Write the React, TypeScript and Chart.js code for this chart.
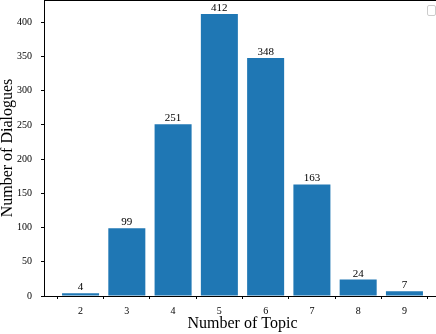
import React, { useEffect, useRef } from 'react';
import { Chart, registerables } from 'chart.js';

Chart.register(...registerables);

const topics = [2, 3, 4, 5, 6, 7, 8, 9];
const dialogues = [4, 99, 251, 412, 348, 163, 24, 7];
const yTickValues = [0, 50, 100, 150, 200, 250, 300, 350, 400];
const xTitle = 'Number of Topic';
const yTitle = 'Number of Dialogues';

const X_MIN = 1.21;
const X_MAX = 9.79;
const Y_MAX = 432.6;
const FONT = "'Liberation Serif', 'Times New Roman', serif";

const framePlugin = {
  id: 'frameAndLabels',
  afterDatasetsDraw(chart: any) {
    const { ctx, chartArea } = chart;
    ctx.save();
    // top spine
    ctx.strokeStyle = '#000';
    ctx.lineWidth = 1;
    ctx.beginPath();
    ctx.moveTo(chartArea.left, chartArea.top + 0.5);
    ctx.lineTo(chartArea.right, chartArea.top + 0.5);
    ctx.stroke();
    // empty legend frame
    ctx.strokeStyle = '#cccccc';
    ctx.lineWidth = 1;
    const lx = chartArea.right - 14;
    const ly = chartArea.top + 5;
    ctx.beginPath();
    if ((ctx as any).roundRect) {
      (ctx as any).roundRect(lx + 0.5, ly + 0.5, 8, 10, 1.5);
    } else {
      ctx.rect(lx + 0.5, ly + 0.5, 8, 10);
    }
    ctx.stroke();
    // value labels
    const meta = chart.getDatasetMeta(0);
    ctx.fillStyle = '#000';
    ctx.font = `11px ${FONT}`;
    ctx.textAlign = 'center';
    ctx.textBaseline = 'alphabetic';
    meta.data.forEach((bar: any, i: number) => {
      ctx.fillText(String(dialogues[i]), bar.x, bar.y - 3);
    });
    ctx.restore();
  },
};

export default function App() {
  const ref = useRef<HTMLCanvasElement | null>(null);

  useEffect(() => {
    if (!ref.current) return;
    const chart = new Chart(ref.current, {
      type: 'bar',
      data: {
        datasets: [
          {
            data: topics.map((t, i) => ({ x: t, y: dialogues[i] })),
            backgroundColor: '#1f77b4',
            borderWidth: 0,
            barPercentage: 0.8,
            categoryPercentage: 1.0,
          },
        ],
      },
      options: {
        responsive: false,
        animation: false,
        devicePixelRatio: 1,
        layout: { padding: 0 },
        plugins: {
          legend: { display: false },
          tooltip: { enabled: false },
        },
        scales: {
          x: {
            type: 'linear',
            min: X_MIN,
            max: X_MAX,
            offset: false,
            afterBuildTicks: (scale: any) => {
              scale.ticks = topics.map((v) => ({ value: v }));
            },
            afterFit: (scale: any) => {
              scale.height = 38;
              scale.paddingLeft = 0;
              scale.paddingRight = 0;
            },
            grid: {
              display: true,
              drawOnChartArea: false,
              drawTicks: true,
              tickLength: 3,
              color: '#000',
            },
            border: { display: true, color: '#000', width: 1 },
            ticks: {
              color: '#000',
              font: { family: FONT, size: 10 },
              padding: 6,
              maxRotation: 0,
              autoSkip: false,
              callback: (v: any) => String(v),
            },
            title: {
              display: true,
              text: xTitle,
              color: '#000',
              font: { family: FONT, size: 16, lineHeight: 1 },
              padding: { top: 0, bottom: 2 },
            },
          },
          y: {
            type: 'linear',
            min: 0,
            max: Y_MAX,
            afterBuildTicks: (scale: any) => {
              scale.ticks = yTickValues.map((v) => ({ value: v }));
            },
            afterFit: (scale: any) => {
              scale.width = 44;
              scale.paddingTop = 0;
              scale.paddingBottom = 0;
            },
            grid: {
              display: true,
              drawOnChartArea: false,
              drawTicks: true,
              tickLength: 3,
              color: '#000',
            },
            border: { display: true, color: '#000', width: 1 },
            ticks: {
              color: '#000',
              font: { family: FONT, size: 10 },
              padding: 9,
              callback: (v: any) => String(v),
            },
            title: {
              display: true,
              text: yTitle,
              color: '#000',
              font: { family: FONT, size: 16, lineHeight: 1 },
              padding: { top: 0, bottom: 0 },
            },
          },
        },
      },
      plugins: [framePlugin],
    });
    return () => chart.destroy();
  }, []);

  return (
    <div
      style={{
        position: 'fixed',
        left: 0,
        top: 0,
        width: 436,
        height: 334,
        overflow: 'hidden',
        background: '#fff',
      }}
    >
      <canvas
        ref={ref}
        width={441}
        height={334}
        style={{ display: 'block', width: 441, height: 334 }}
      />
    </div>
  );
}
